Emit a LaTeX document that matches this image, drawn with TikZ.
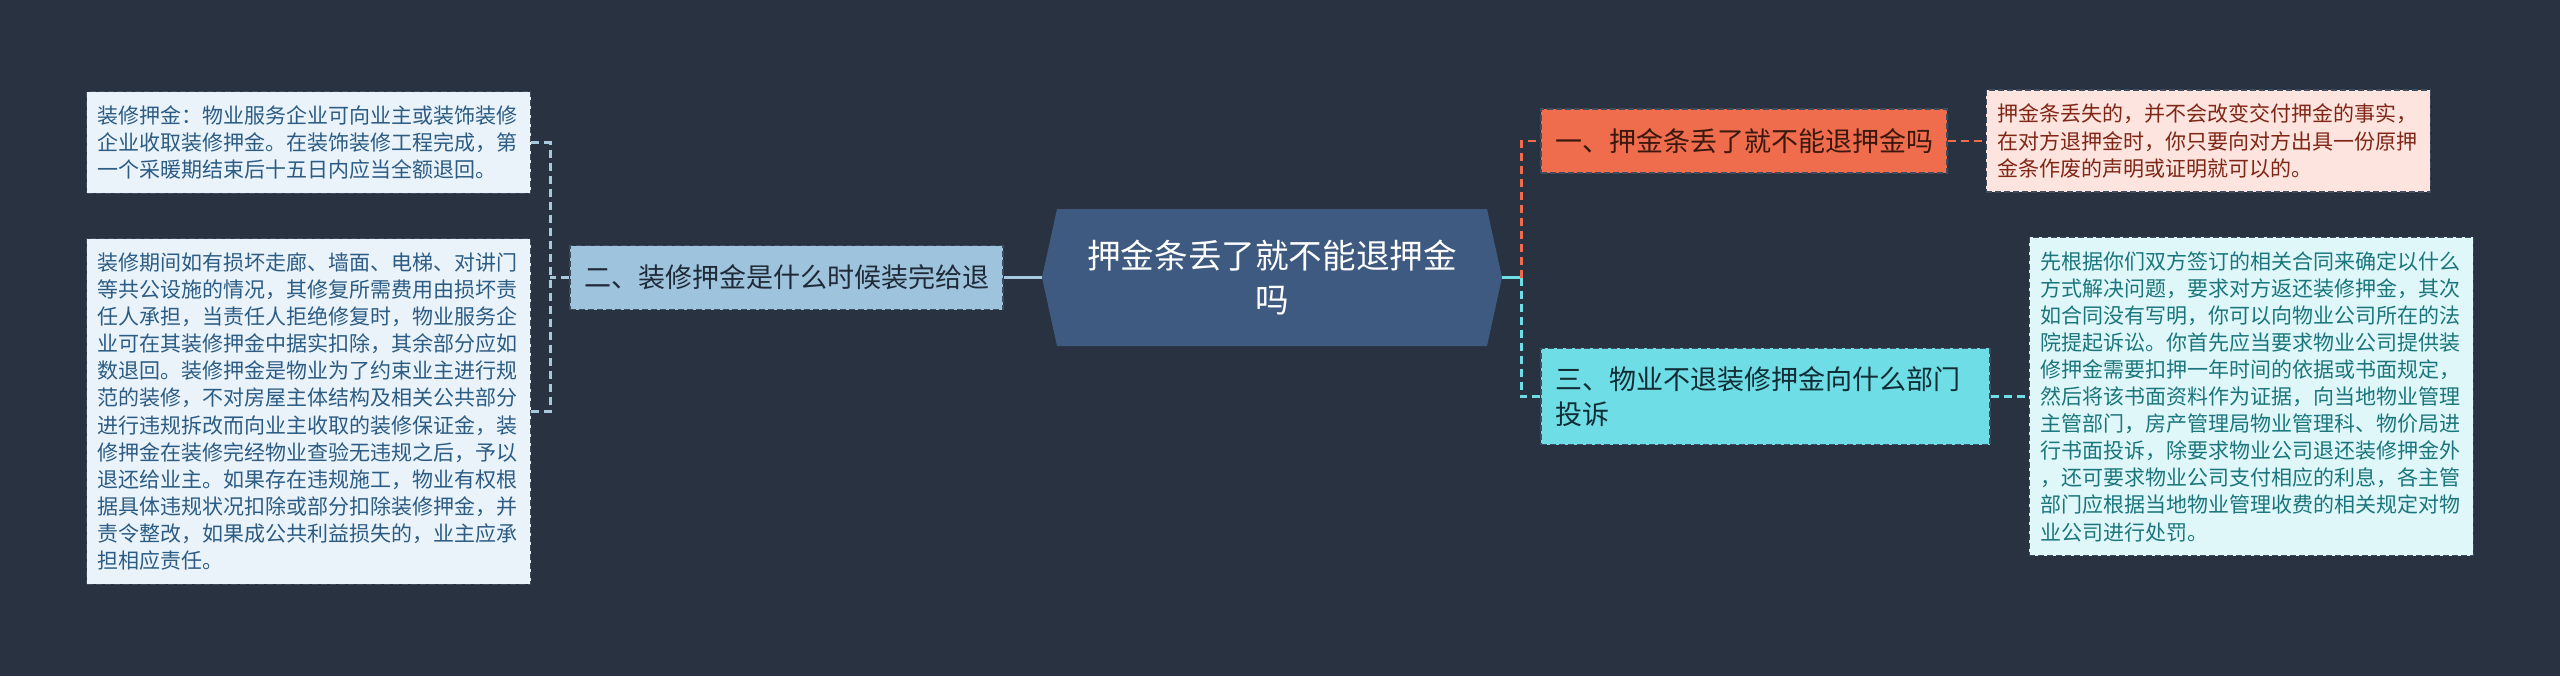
\documentclass[tikz,border=0pt]{standalone}
\usepackage{fontspec}
\setmainfont{Noto Sans CJK SC}
\usepackage{xcolor}
\usetikzlibrary{positioning,calc}
\definecolor{mapbg}{RGB}{41,50,65}
\definecolor{rootblue}{RGB}{62,90,128}
\definecolor{steelfill}{RGB}{158,196,221}
\definecolor{steelline}{RGB}{168,200,222}
\definecolor{steeltext}{RGB}{32,42,56}
\definecolor{paleblue}{RGB}{234,243,250}
\definecolor{paleblueink}{RGB}{44,92,132}
\definecolor{coral}{RGB}{239,108,77}
\definecolor{coraldark}{RGB}{58,24,14}
\definecolor{palecoral}{RGB}{253,228,222}
\definecolor{palecoralink}{RGB}{128,38,22}
\definecolor{aqua}{RGB}{110,221,229}
\definecolor{aquadark}{RGB}{16,44,52}
\definecolor{paleaqua}{RGB}{224,247,249}
\definecolor{paleaquaink}{RGB}{26,118,124}
\definecolor{boxedge}{RGB}{62,76,96}

\begin{document}
\begin{tikzpicture}[x=0.5pt, y=-0.5pt,
  node distance=19pt,
  rootnode/.style={rectangle, minimum width=230pt, minimum height=68.5pt, inner sep=0pt,
    align=center, text=white, font=\fontsize{16.8pt}{22pt}\selectfont},
  branch/.style={rectangle, draw=boxedge, dash pattern=on 3pt off 1.5pt, line width=0.6pt,
    inner xsep=7pt, inner ysep=9pt, minimum height=32pt, align=left,
    font=\fontsize{13.5pt}{17.5pt}\selectfont},
  leaf/.style={rectangle, draw=boxedge, dash pattern=on 3pt off 1.5pt, line width=0.6pt,
    inner xsep=5.5pt, inner ysep=7pt, text width=211pt, align=left,
    font=\fontsize{10.5pt}{13.55pt}\selectfont},
  link/.style={line width=1.4pt, dash pattern=on 4pt off 2.5pt}]
\fill[mapbg] (0,0) rectangle (2560,676);
% centre
\coordinate (rc) at (1272,277.5);
\fill[rootblue] ($(rc)+(-230,0)$) -- ++(15,-68.5) -- ++(430,0) -- ++(15,68.5)
  -- ++(-15,68.5) -- ++(-430,0) -- cycle;
\node[rootnode] (root) at (rc) {押金条丢了就不能退押金\\吗};
% left side
\node[branch, fill=steelfill, text=steeltext, left=of root] (b2) {二、装修押金是什么时候装完给退};
\node[leaf, fill=paleblue, text=paleblueink, left=of b2, yshift=67.5pt] (la)
  {装修押金：物业服务企业可向业主或装饰装修\\企业收取装修押金。在装饰装修工程完成，第\\一个采暖期结束后十五日内应当全额退回。};
\node[leaf, fill=paleblue, text=paleblueink, left=of b2, yshift=-67pt] (lb)
  {装修期间如有损坏走廊、墙面、电梯、对讲门\\等共公设施的情况，其修复所需费用由损坏责\\任人承担，当责任人拒绝修复时，物业服务企\\业可在其装修押金中据实扣除，其余部分应如\\数退回。装修押金是物业为了约束业主进行规\\范的装修，不对房屋主体结构及相关公共部分\\进行违规拆改而向业主收取的装修保证金，装\\修押金在装修完经物业查验无违规之后，予以\\退还给业主。如果存在违规施工，物业有权根\\据具体违规状况扣除或部分扣除装修押金，并\\责令整改，如果成公共利益损失的，业主应承\\担相应责任。};
% right side
\node[branch, fill=coral, text=coraldark, right=of root, yshift=68.25pt] (b1) {一、押金条丢了就不能退押金吗};
\node[branch, fill=aqua, text=aquadark, text width=210.5pt, right=of root, yshift=-59.5pt] (b3)
  {三、物业不退装修押金向什么部门\\投诉};
\node[leaf, fill=palecoral, text=palecoralink, right=of b1] (lc)
  {押金条丢失的，并不会改变交付押金的事实，\\在对方退押金时，你只要向对方出具一份原押\\金条作废的声明或证明就可以的。};
\node[leaf, fill=paleaqua, text=paleaquaink, right=of b3] (ld)
  {先根据你们双方签订的相关合同来确定以什么\\方式解决问题，要求对方返还装修押金，其次\\如合同没有写明，你可以向物业公司所在的法\\院提起诉讼。你首先应当要求物业公司提供装\\修押金需要扣押一年时间的依据或书面规定，\\然后将该书面资料作为证据，向当地物业管理\\主管部门，房产管理局物业管理科、物价局进\\行书面投诉，除要求物业公司退还装修押金外\\，还可要求物业公司支付相应的利息，各主管\\部门应根据当地物业管理收费的相关规定对物\\业公司进行处罚。};
% connectors
\coordinate[left=9.5pt of b2.west] (lbrk);
\coordinate[right=9.5pt of root.east] (rbrk);
\draw[steelline, line width=1.4pt] (root.west) -- (b2.east);
\draw[link, steelline] (b2.west) -- (lbrk);
\draw[link, steelline] (la.east) -| (lbrk) |- (lb.east);
\draw[aqua, line width=1.4pt] (root.east) -- (rbrk);
\draw[link, coral] (rbrk) |- (b1.west);
\draw[link, aqua] (rbrk) |- (b3.west);
\draw[link, coral] (b1.east) -- (lc.west);
\draw[link, aqua] (b3.east) -- (ld.west);
\end{tikzpicture}
\end{document}
